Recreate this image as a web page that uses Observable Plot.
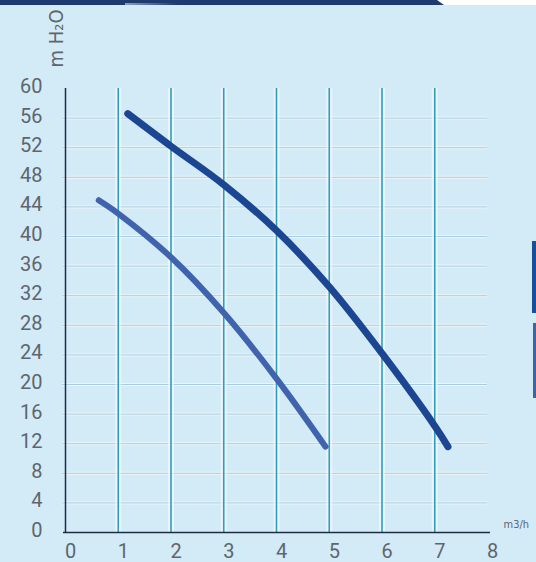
<!DOCTYPE html>
<html>
<head>
<meta charset="utf-8">
<script src="https://cdn.jsdelivr.net/npm/d3@7"></script>
<script src="https://cdn.jsdelivr.net/npm/@observablehq/plot@0.6"></script>
<style>
  html, body { margin: 0; padding: 0; background: #d3ebf7; }
  #wrap { position: relative; width: 536px; height: 562px; overflow: hidden; background: #d3ebf7; }
  #band { position: absolute; left: 0; top: 0; width: 536px; height: 5px; background: #ffffff; }
  #band .navy { position: absolute; left: 0; top: 0; width: 444px; height: 5px; background: #1f3a6d; }
  #band .navy::after { content: ""; position: absolute; left: 437px; top: 0; width: 7px; height: 5px;
    background: #ffffff; clip-path: polygon(100% 0, 100% 100%, 0 0); }
  #band .glint { position: absolute; left: 125px; top: 3px; width: 52px; height: 2px;
    background: linear-gradient(to right, #8d9cb8, #1f3a6d); }
  .swatch { position: absolute; }
  #sw1 { left: 532px; top: 241px; width: 4px; height: 72px; background: #16509a; }
  #sw2 { left: 533px; top: 323px; width: 3px; height: 75px; background: #3e63ad; }
  #chart { position: absolute; left: 0; top: 0; }
</style>
</head>
<body>
<div id="wrap">
  <div id="chart"></div>
  <div id="band"><div class="navy"></div><div class="glint"></div></div>
  <div class="swatch" id="sw1" title="Pump A"></div>
  <div class="swatch" id="sw2" title="Pump B"></div>
</div>
<script>
// Axis ticks
const flowTicks = [0, 1, 2, 3, 4, 5, 6, 7, 8];
const headTicks = [0, 4, 8, 12, 16, 20, 24, 28, 32, 36, 40, 44, 48, 52, 56, 60];
const gridX = [1, 2, 3, 4, 5, 6, 7];
const gridY = [4, 8, 12, 16, 20, 24, 28, 32, 36, 40, 44, 48, 52, 56];

// Series (flow m3/h, head m H2O)
const pumpA_q = [1.18, 2, 3, 4, 5, 6, 7, 7.25];
const pumpA_h = [56.6, 52.2, 47.0, 40.8, 33.2, 24.2, 14.4, 11.6];
const pumpB_q = [0.63, 1, 2, 3, 4, 4.93];
const pumpB_h = [44.9, 43.1, 37.2, 29.7, 20.8, 11.6];

const seriesA = pumpA_q.map((q, i) => ({q, h: pumpA_h[i]}));
const seriesB = pumpB_q.map((q, i) => ({q, h: pumpB_h[i]}));

const labelFont = "Roboto, 'DejaVu Sans', sans-serif";
const narrowFont = "'Liberation Sans Narrow', 'DejaVu Sans Condensed', sans-serif";

const chart = Plot.plot({
  width: 536,
  height: 562,
  marginLeft: 65,
  marginRight: 49,
  marginTop: 88,
  marginBottom: 30,
  style: {background: "transparent", fontFamily: labelFont, color: "#5f656d"},
  x: {domain: [0, 8], axis: null},
  y: {domain: [0, 60], axis: null},
  marks: [
    Plot.ruleY(gridY, {stroke: "#ffffff", strokeOpacity: 0.55, strokeWidth: 3, insetLeft: -3}),
    Plot.ruleY(gridY, {stroke: "#a9cddd", strokeWidth: 1, insetLeft: -3}),
    Plot.ruleX(gridX, {y1: 0, y2: 60, stroke: "#ffffff", strokeOpacity: 0.5, strokeWidth: 6}),
    Plot.ruleX(gridX, {y1: 0, y2: 60, stroke: "#2f9db9", strokeWidth: 1.6}),
    Plot.ruleX([0], {y1: 0, y2: 60, stroke: "#1e2b45", strokeWidth: 1.5}),
    Plot.ruleY([0], {stroke: "#1e2b45", strokeWidth: 1.5, insetLeft: -2, insetRight: -3}),
    Plot.axisY(headTicks, {anchor: "left", label: null, tickSize: 0, tickPadding: 23, fontSize: 20, dy: -2,
      fill: "#5f656d", tickFormat: d => String(d)}),
    Plot.axisX(flowTicks, {anchor: "bottom", label: null, tickSize: 0, tickPadding: 11, fontSize: 20, dx: 5,
      fill: "#5f656d", tickFormat: d => String(d)}),
    Plot.line(seriesB, {x: "q", y: "h", curve: "catmull-rom", stroke: "#4063ae", strokeWidth: 6,
      strokeLinecap: "round", strokeLinejoin: "round"}),
    Plot.line(seriesA, {x: "q", y: "h", curve: "catmull-rom", stroke: "#1c4592", strokeWidth: 7,
      strokeLinecap: "round", strokeLinejoin: "round"}),
    Plot.text(["m3/h"], {frameAnchor: "bottom-right", dx: 16, dy: -8, textAnchor: "start",
      lineAnchor: "middle", fontSize: 11, fill: "#5f656d", fontFamily: narrowFont}),
    Plot.text(["m H₂O"], {frameAnchor: "top-left", dx: -9, dy: -50, rotate: -90,
      textAnchor: "middle", lineAnchor: "middle", fontSize: 20, fill: "#5f656d", fontFamily: narrowFont})
  ]
});

document.getElementById("chart").appendChild(chart);
</script>
</body>
</html>
